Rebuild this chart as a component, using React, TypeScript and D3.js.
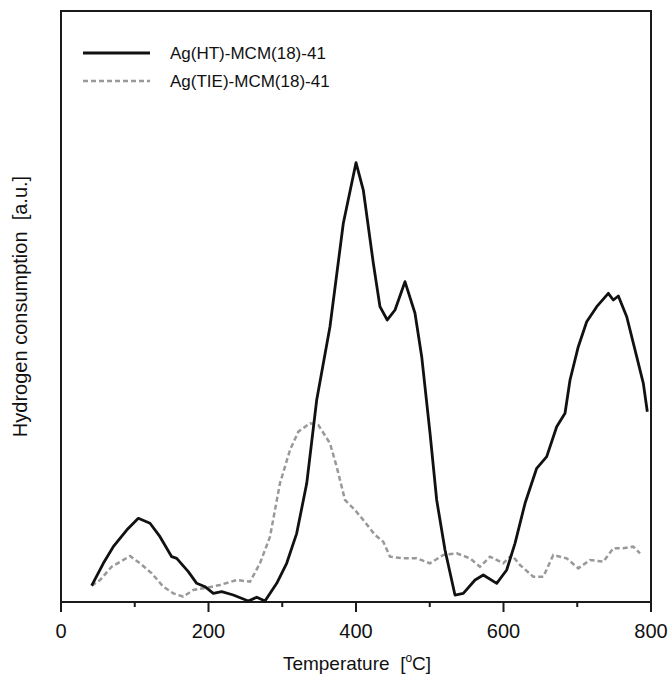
import React from "react";
import * as d3 from "d3";

const htTemp = [41.6, 57.4, 70.9, 89.1, 104.8, 120.7, 134.2, 150.1, 156.9, 172.6, 184.0, 195.3, 206.5, 217.9, 233.6, 254.0, 265.4, 276.6, 292.5, 306.0, 319.6, 333.2, 346.7, 364.7, 382.8, 400.0, 409.9, 423.5, 432.5, 442.4, 452.9, 466.4, 480.0, 489.1, 500.4, 509.4, 520.7, 534.2, 545.5, 561.4, 572.6, 590.8, 604.3, 615.6, 629.2, 645.0, 658.6, 672.1, 683.4, 690.2, 701.4, 712.8, 726.4, 742.1, 748.9, 755.7, 767.1, 780.6, 789.6, 795.0];
const htValue = [2.76, 6.55, 9.36, 12.18, 14.16, 13.32, 11.05, 7.67, 7.39, 5.13, 3.16, 2.59, 1.47, 1.74, 1.18, 0.17, 0.8, 0.17, 3.16, 6.55, 11.62, 20.08, 34.18, 46.58, 64.08, 74.33, 69.71, 57.31, 49.97, 47.72, 49.41, 54.2, 48.85, 41.51, 28.54, 17.26, 8.8, 1.18, 1.47, 3.72, 4.57, 3.16, 5.41, 9.93, 16.7, 22.62, 24.59, 29.66, 31.93, 37.56, 43.2, 47.43, 49.97, 52.23, 51.1, 51.78, 48.27, 41.51, 37.0, 32.2];

const tieTemp = [41.6, 52.9, 68.7, 93.6, 107.1, 123.0, 138.7, 152.3, 165.8, 179.4, 197.6, 215.6, 238.2, 256.3, 269.8, 283.4, 296.9, 310.5, 321.8, 337.6, 348.9, 364.7, 373.8, 385.1, 398.6, 409.9, 425.8, 437.0, 446.1, 464.1, 482.3, 500.3, 518.4, 536.5, 554.6, 568.1, 581.7, 599.7, 611.1, 622.4, 640.4, 654.0, 667.5, 685.7, 701.4, 717.3, 735.3, 748.9, 762.5, 776.0, 785.1];
const tieValue = [2.76, 3.72, 5.97, 7.78, 6.55, 4.86, 2.59, 1.47, 0.9, 2.03, 2.42, 2.88, 3.72, 3.43, 6.55, 11.05, 20.08, 25.72, 28.82, 30.24, 29.95, 26.85, 22.89, 17.26, 15.57, 13.87, 11.34, 10.2, 7.67, 7.39, 7.39, 6.55, 7.95, 8.24, 7.39, 5.97, 7.67, 6.55, 7.95, 6.26, 4.28, 4.28, 7.95, 7.39, 5.7, 7.11, 6.82, 9.09, 9.09, 9.36, 8.24];

const majorTicks = [0, 200, 400, 600, 800];
const minorTicks = [100, 300, 500, 700];
const seriesNames = ["Ag(HT)-MCM(18)-41", "Ag(TIE)-MCM(18)-41"];

const W = 671;
const H = 674;
const left = 61, right = 651, top = 11, bottom = 602;
const font = "Liberation Sans, Arial, sans-serif";

export default function App() {
  const x = d3.scaleLinear().domain([0, 800]).range([left, right]);
  const y = d3.scaleLinear().domain([0, 100]).range([bottom, top]);
  const line = d3
    .line<[number, number]>()
    .x((d) => x(d[0]))
    .y((d) => y(d[1]))
    .curve(d3.curveLinear);
  const ht = htTemp.map((t, i) => [t, htValue[i]] as [number, number]);
  const tie = tieTemp.map((t, i) => [t, tieValue[i]] as [number, number]);

  return (
    <svg width={W} height={H} style={{ position: "absolute", left: 0, top: 0, background: "#fff" }}>
      <rect x={left} y={top} width={right - left} height={bottom - top} fill="none" stroke="#1a1a1a" strokeWidth={2} />
      {majorTicks.map((t) => (
        <g key={"M" + t}>
          <line x1={x(t)} x2={x(t)} y1={bottom} y2={bottom + 10} stroke="#1a1a1a" strokeWidth={2} />
          <text x={x(t)} y={638} textAnchor="middle" fontFamily={font} fontSize={20} fill="#111">
            {t}
          </text>
        </g>
      ))}
      {minorTicks.map((t) => (
        <line key={"m" + t} x1={x(t)} x2={x(t)} y1={bottom} y2={bottom + 5} stroke="#1a1a1a" strokeWidth={2} />
      ))}
      <path d={line(tie) || ""} fill="none" stroke="#999" strokeWidth={2.5} strokeDasharray="5,3" />
      <path d={line(ht) || ""} fill="none" stroke="#111" strokeWidth={2.8} strokeLinejoin="round" />
      <g>
        <line x1={83} x2={150} y1={53} y2={53} stroke="#111" strokeWidth={2.8} />
        <text x={170} y={59} fontFamily={font} fontSize={17} fill="#111">{seriesNames[0]}</text>
        <line x1={83} x2={150} y1={81} y2={81} stroke="#999" strokeWidth={2.5} strokeDasharray="5,3" />
        <text x={170} y={87} fontFamily={font} fontSize={17} fill="#111">{seriesNames[1]}</text>
      </g>
      <text x={357} y={670} textAnchor="middle" fontFamily={font} fontSize={19} fill="#111">
        Temperature{"\u00a0\u00a0"}[<tspan dy={-8} fontSize={12}>o</tspan><tspan dy={8}>C]</tspan>
      </text>
      <text
        transform={`translate(27,${(top + bottom) / 2}) rotate(-90)`}
        textAnchor="middle"
        fontFamily={font}
        fontSize={20}
        fill="#111"
      >
        Hydrogen consumption{"\u00a0\u00a0"}[a.u.]
      </text>
    </svg>
  );
}
